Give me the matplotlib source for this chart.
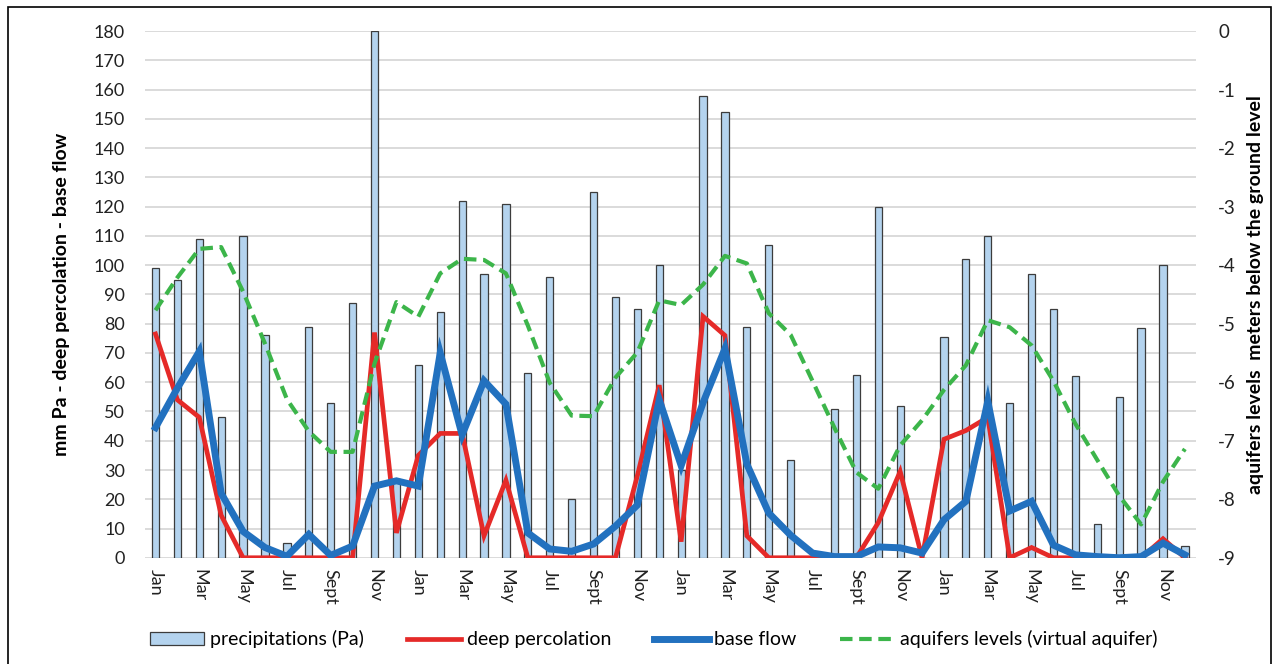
import numpy as np
import matplotlib
matplotlib.use("Agg")
import matplotlib.pyplot as plt
from matplotlib.patches import Patch, Rectangle
from matplotlib.lines import Line2D

plt.rcParams['font.family'] = ['Lato', 'DejaVu Sans']
plt.rcParams['axes.unicode_minus'] = False

# monthly values, 4 years (Jan..Dec x 4)
precip = [99, 95, 109, 48, 110, 76, 5, 79, 53, 87, 180, 27,
          66, 84, 122, 97, 121, 63, 96, 20, 125, 89, 85, 100,
          30, 158, 152.5, 79, 107, 33.5, 0, 51, 62.5, 120, 52, 0,
          75.5, 102, 110, 53, 97, 85, 62, 11.5, 55, 78.5, 100, 4]
deep_perc = [76.5, 54, 48, 14.5, 0, 0, 0, 0, 0, 0, 77, 8.5,
             35, 42.5, 42.5, 7.5, 26.5, 0, 0, 0, 0, 0, 28, 59,
             5.5, 82.5, 76, 7.5, 0, 0, 0, 0, 0, 12, 29.5, 0,
             40.5, 43.5, 48, 0, 3.5, 0, 0, 0, 0, 0, 6.5, 0]
base_flow = [44.5, 58, 70.5, 22, 9, 3.5, 0.5, 8, 0.8, 4, 24.5, 26.3,
             24.5, 70, 42, 60.5, 52.5, 8.5, 3, 2.2, 4.7, 10.8, 18, 54,
             31.5, 53, 71.5, 32, 15.3, 7.7, 1.6, 0.4, 0.4, 3.7, 3.4, 1.6,
             13, 19.3, 53.5, 16, 19.3, 4.3, 1, 0.4, 0, 0.4, 5, 1]
aquifer = [-4.77, -4.21, -3.72, -3.69, -4.45, -5.34, -6.29, -6.84, -7.19, -7.19, -5.68, -4.63,
           -4.88, -4.14, -3.89, -3.91, -4.14, -5.03, -6.01, -6.57, -6.58, -5.92, -5.49, -4.60,
           -4.68, -4.33, -3.84, -3.97, -4.82, -5.19, -5.98, -6.78, -7.54, -7.82, -7.08, -6.65,
           -6.13, -5.71, -4.94, -5.06, -5.37, -5.98, -6.71, -7.33, -7.94, -8.43, -7.70, -7.14]
month_labels = ["Jan", "Mar", "May", "Jul", "Sept", "Nov"] * 4

x = np.arange(len(precip))

fig = plt.figure(figsize=(12.79, 6.64), dpi=100)
ax = fig.add_axes([0.113, 0.160, 0.822, 0.793])
ax2 = ax.twinx()

bar_col = "#b4d3ee"
red = "#e52a28"
blue = "#2271bf"
green = "#3cb54a"

for y in range(0, 181, 10):
    ax.axhline(y, color="#d4d4d4", linewidth=1.2, zorder=0)

ax.bar(x, precip, width=0.33, color=bar_col, edgecolor="#3c3c3c", linewidth=0.9, zorder=2)
ax.plot(x, deep_perc, color=red, linewidth=3.4, zorder=3, solid_joinstyle='miter')
ax.plot(x, base_flow, color=blue, linewidth=5, zorder=4, solid_joinstyle='miter')
ax2.plot(x, aquifer, color=green, linewidth=3, linestyle=(0, (3, 1.6)), zorder=5)

ax.set_zorder(1)
ax2.set_zorder(2)
ax2.patch.set_visible(False)

ax.set_xlim(-0.5, len(precip) - 0.5)
ax.set_ylim(0, 180)
ax.set_yticks(range(0, 181, 10))
ax2.set_ylim(-9, 0)
ax2.set_yticks(range(-9, 1))

ax.set_xticks(x[::2])
ax.set_xticklabels(month_labels, rotation=-90, fontsize=12.5)

for a in (ax, ax2):
    for s in a.spines.values():
        s.set_visible(False)
    a.tick_params(length=0, labelsize=13, colors="#222222")
ax.tick_params(axis='y', pad=14)
ax.tick_params(axis='x', pad=8)
ax2.tick_params(axis='y', pad=16, labelsize=13.5)

ax.set_ylabel("mm Pa - deep percolation - base flow", fontsize=14, fontweight='bold', labelpad=17)
ax2.set_ylabel("aquifers levels  meters below the ground level", fontsize=14, fontweight='bold', labelpad=8)

handles = [Patch(facecolor=bar_col, edgecolor="#3c3c3c", linewidth=0.9),
           Line2D([], [], color=red, linewidth=3.4),
           Line2D([], [], color=blue, linewidth=5),
           Line2D([], [], color=green, linewidth=3, linestyle=(0, (3, 1.6)))]
names = ["precipitations (Pa)", "deep percolation", "base flow", "aquifers levels (virtual aquifer)"]
fig.legend(handles, names, loc='center', bbox_to_anchor=(0.511, 0.037), ncol=4, frameon=False,
           fontsize=14, handlelength=2.8, handletextpad=0.3, columnspacing=2.2)

# frame around the figure (open at the bottom edge like the source)
fig.patches.append(Rectangle((0.006, -0.05), 0.988, 1.04, transform=fig.transFigure,
                             fill=False, edgecolor="black", linewidth=1.2))

fig.savefig("out.png", dpi=100)
